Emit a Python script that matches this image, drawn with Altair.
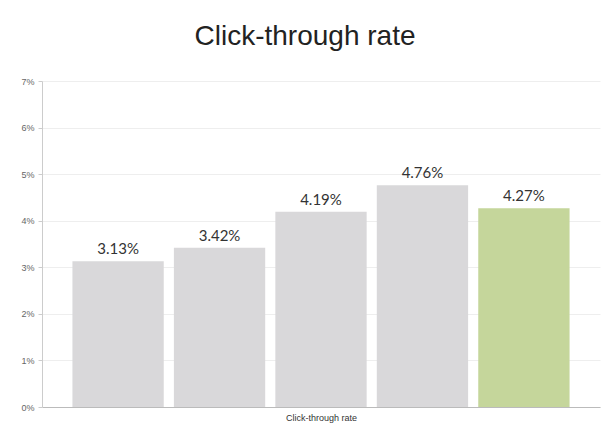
import altair as alt
import pandas as pd

categories = ["A", "B", "C", "D", "E"]
values = [3.13, 3.42, 4.19, 4.76, 4.27]
labels = ["3.13%", "3.42%", "4.19%", "4.76%", "4.27%"]
colors = ["#d9d8da", "#d9d8da", "#d9d8da", "#d9d8da", "#c5d69b"]

df = pd.DataFrame({"cat": categories, "val": values, "label": labels, "color": colors})

x = alt.X("cat:N", sort=categories,
          scale=alt.Scale(paddingInner=0.1, paddingOuter=0.3),
          axis=alt.Axis(title="Click-through rate", labels=False, ticks=False,
                        domainColor="#bbbbbb", titleFont="Liberation Sans",
                        titleFontSize=9, titleFontWeight="normal", titleColor="#333333",
                        titlePadding=6))
y = alt.Y("val:Q", scale=alt.Scale(domain=[0, 7], nice=False),
          axis=alt.Axis(title=None, values=[0, 1, 2, 3, 4, 5, 6, 7],
                        labelExpr="datum.value + '%'", labelFont="Liberation Sans",
                        labelFontSize=9, labelColor="#666666", tickColor="#cccccc",
                        tickSize=4, domainColor="#cccccc", gridColor="#eeeeee",
                        labelPadding=4))

bars = alt.Chart(df).mark_bar().encode(
    x=x, y=y, color=alt.Color("color:N", scale=None)
)
text = alt.Chart(df).mark_text(dy=-12, font="Lato", fontSize=15, color="#333333").encode(
    x=alt.X("cat:N", sort=categories), y="val:Q", text="label:N"
)

chart = (bars + text).properties(
    width=558, height=326,
    autosize=alt.AutoSizeParams(type="none"),
    padding={"left": 34, "top": 73, "right": 7, "bottom": 26},
    title=alt.TitleParams("Click-through rate", font="Liberation Sans", fontSize=28,
                          fontWeight="normal", color="#222222", anchor="middle",
                          offset=26, dx=-16),
).configure_view(stroke=None)

chart.save("out.html", embed_options={"renderer": "svg", "actions": False})
